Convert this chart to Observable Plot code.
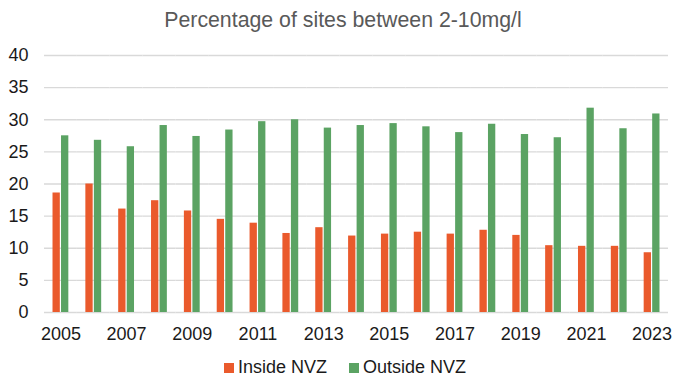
<!DOCTYPE html>
<html>
<head>
<meta charset="utf-8">
<script src="https://cdn.jsdelivr.net/npm/d3@7"></script>
<script src="https://cdn.jsdelivr.net/npm/@observablehq/plot@0.6"></script>
<style>
  html, body { margin: 0; padding: 0; background: #fff; }
  #wrap { position: relative; width: 686px; height: 389px; font-family: "Liberation Sans", Arial, sans-serif; overflow: hidden; }
  #title { position: absolute; left: 0; top: 0; width: 686px; height: 40px; line-height: 40px; text-align: center; font-size: 21.3px; color: #595959; }
  #chart { position: absolute; left: 0; top: 40px; }
  .lg-sw { position: absolute; width: 10px; height: 10px; }
  .lg-tx { position: absolute; font-size: 18px; line-height: 24px; color: #1a1a1a; white-space: nowrap; }
</style>
</head>
<body>
<div id="wrap">
  <div id="title">Percentage of sites between 2-10mg/l</div>
  <div id="chart"></div>
  <div id="legend"></div>
</div>
<script>
const years = [2005,2006,2007,2008,2009,2010,2011,2012,2013,2014,2015,2016,2017,2018,2019,2020,2021,2022,2023];
const insideNVZ  = [18.6,20.0,16.1,17.4,15.8,14.5,13.9,12.3,13.2,11.9,12.2,12.5,12.2,12.8,12.0,10.4,10.3,10.3,9.3];
const outsideNVZ = [27.5,26.8,25.8,29.1,27.4,28.4,29.7,30.0,28.7,29.1,29.4,28.9,28.0,29.3,27.7,27.2,31.8,28.6,30.9];
const seriesNames = ["Inside NVZ", "Outside NVZ"];
const seriesColors = ["#EA5A2C", "#5BA363"];
const yTicks = [0,5,10,15,20,25,30,35,40];

const data = [];
years.forEach((yr, i) => {
  data.push({year: yr, series: seriesNames[0], value: insideNVZ[i]});
  data.push({year: yr, series: seriesNames[1], value: outsideNVZ[i]});
});

const chart = Plot.plot({
  width: 686,
  height: 320,
  marginLeft: 44,
  marginRight: 18,
  marginTop: 15,
  marginBottom: 48,
  style: {fontFamily: "Liberation Sans, Arial, sans-serif", fontSize: "18px", color: "#1a1a1a", background: "transparent", overflow: "visible"},
  fx: {domain: years, padding: 0, round: false, label: null, tickSize: 0, tickPadding: 15,
       tickFormat: d => (d % 2 === 1 ? String(d) : "")},
  x: {domain: seriesNames, paddingInner: 0, paddingOuter: 0.93, round: false, axis: null},
  y: {domain: [0, 40], ticks: yTicks, tickSize: 0, tickPadding: 16, label: null},
  color: {domain: seriesNames, range: seriesColors},
  marks: [
    Plot.ruleY(yTicks, {stroke: "#d9d9d9", strokeWidth: 1.3}),
    Plot.barY(data, {fx: "year", x: "series", y: "value", fill: "series", insetLeft: 0.6, insetRight: 0.6})
  ]
});
document.getElementById("chart").appendChild(chart);

const legend = document.getElementById("legend");
const lgItems = [
  {sw: 224, tx: 238},
  {sw: 349, tx: 363}
];
seriesNames.forEach((name, i) => {
  const sw = document.createElement("div");
  sw.className = "lg-sw";
  sw.style.left = lgItems[i].sw + "px";
  sw.style.top = "363px";
  sw.style.background = seriesColors[i];
  legend.appendChild(sw);
  const tx = document.createElement("div");
  tx.className = "lg-tx";
  tx.style.left = lgItems[i].tx + "px";
  tx.style.top = "355px";
  tx.textContent = name;
  legend.appendChild(tx);
});
</script>
</body>
</html>
